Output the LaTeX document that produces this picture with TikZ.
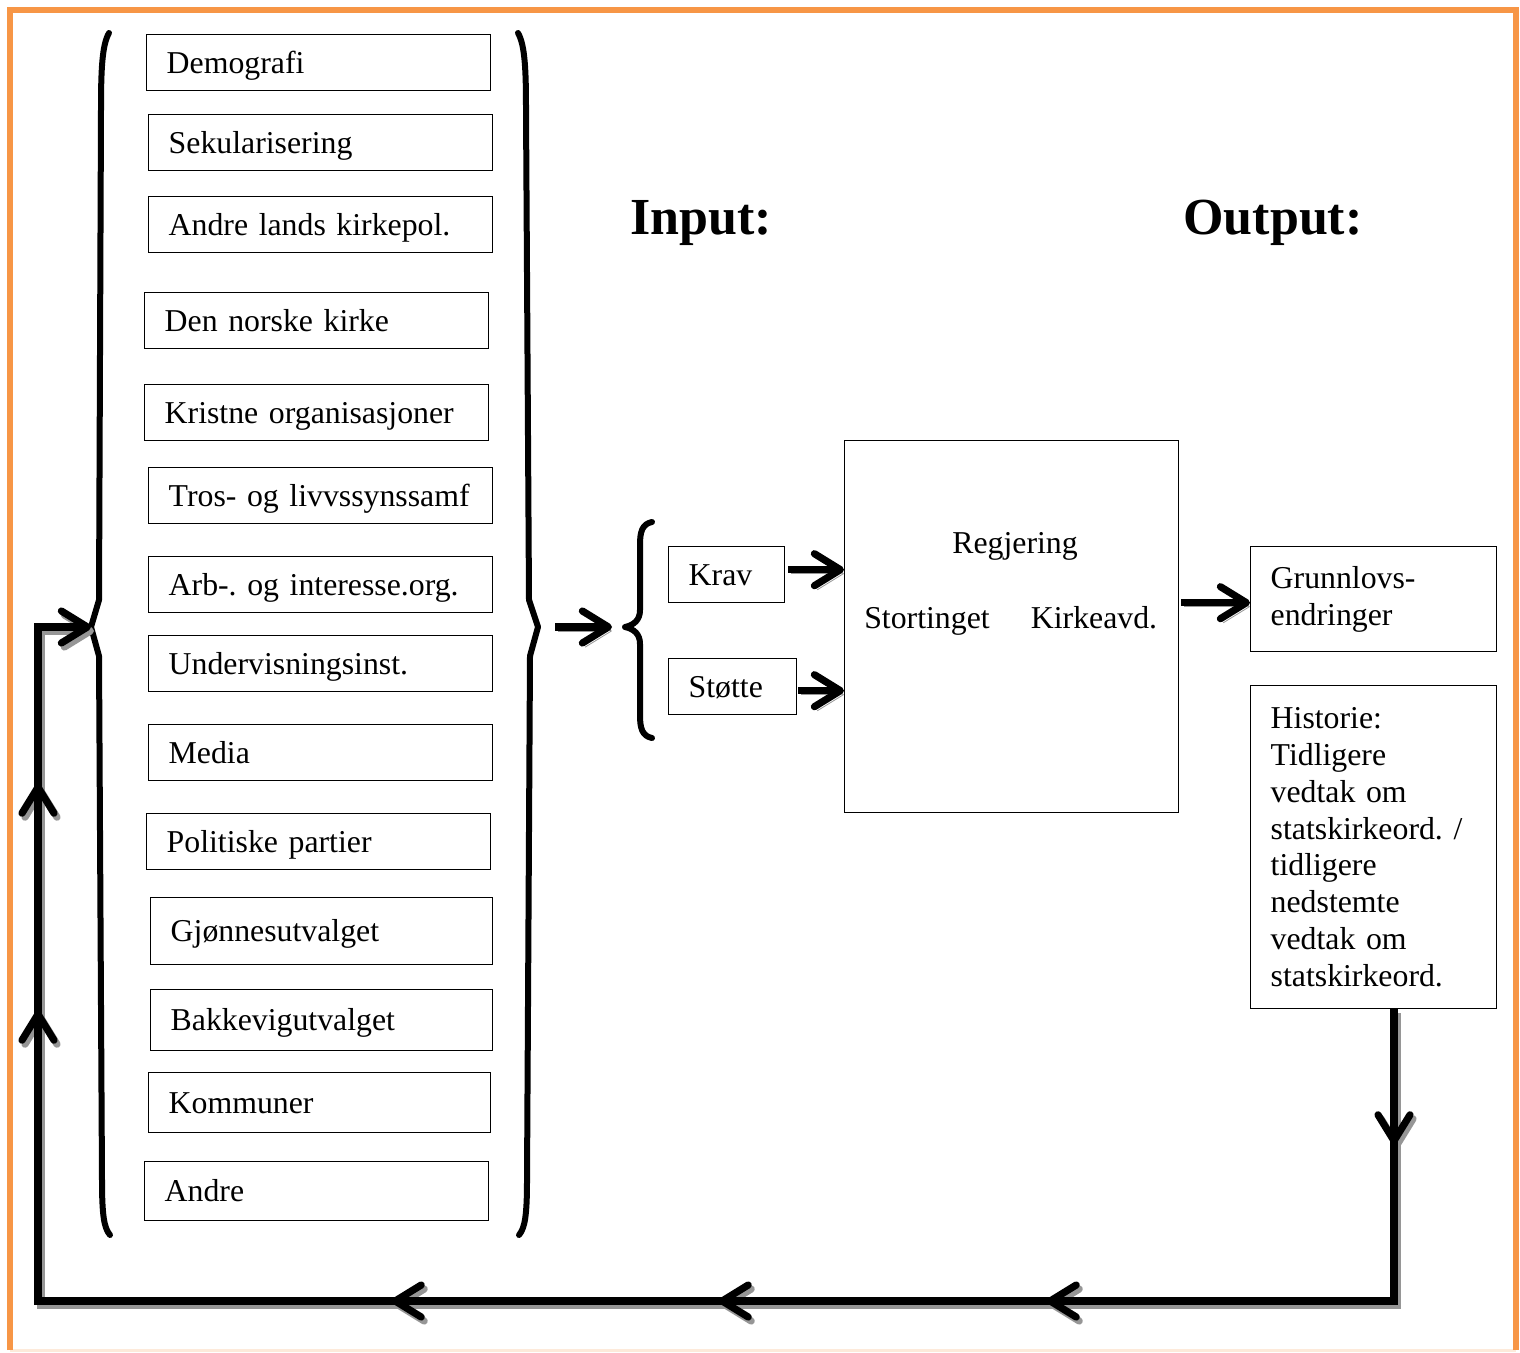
\documentclass[tikz,border=0pt]{standalone}
\usepackage{fontspec}
\setmainfont{Liberation Serif}
\usetikzlibrary{arrows.meta,decorations.markings}
\definecolor{frameorange}{RGB}{247,150,70}
\definecolor{shadowgray}{RGB}{150,150,150}
\frenchspacing

\begin{document}
\begin{tikzpicture}[x=0.5pt,y=-0.5pt,
  every node/.style={font=\fontsize{15.9}{18.45}\selectfont},
  chev/.tip={Straight Barb[length=13pt,width=16pt,line cap=round,line join=round]},
  lbox/.style={draw, line width=0.7pt, anchor=north west, minimum height=28pt,
    text width=152pt, inner xsep=10pt, inner ysep=0pt, align=left,
    text height=10.6pt, text depth=0pt},
  sbox/.style={draw, line width=0.7pt, anchor=north west, minimum height=28pt,
    inner xsep=10pt, inner ysep=0pt, align=left, text height=10.6pt, text depth=0pt},
  plain/.style={inner sep=0pt, text height=10.6pt, text depth=0pt},
  heading/.style={anchor=base west, inner sep=0pt, font=\fontsize{26}{30}\selectfont\bfseries},
  bracket/.style={line width=3pt, line cap=round, line join=round},
  flow/.style={line width=3.6pt, -chev,
    preaction={draw, color=shadowgray, transform canvas={shift={(1.5pt,-2pt)}}}},
  loopline/.style={line width=3.6pt, -chev, postaction={decorate},
    decoration={markings,
      mark=at position 67.5pt with {\arrow{chev}},
      mark=at position 319.5pt with {\arrow{chev}},
      mark=at position 483.5pt with {\arrow{chev}},
      mark=at position 647pt with {\arrow{chev}},
      mark=at position 969pt with {\arrow{chev}},
      mark=at position 1082.5pt with {\arrow{chev}}}}
]
\useasboundingbox (0,0) rectangle (1520,1353);

% frame
\draw[frameorange!20, line width=1.5pt] (10,1350) -- (1516,1350);
\draw[frameorange, line width=3pt] (10,1350) -- (10,10) -- (1516,10) -- (1516,1350);

% environment factors
\node[lbox] (n1) at (146,34) {Demografi};
\node[lbox] (n2) at (148,114) {Sekularisering};
\node[lbox] (n3) at (148,196) {Andre lands kirkepol.};
\node[lbox] (n4) at (144,292) {Den norske kirke};
\node[lbox] (n5) at (144,384) {Kristne organisasjoner};
\node[lbox] (n6) at (148,467) {Tros- og livvssynssamf};
\node[lbox] (n7) at (148,556) {Arb-. og interesse.org.};
\node[lbox] (n8) at (148,635) {Undervisningsinst.};
\node[lbox] (n9) at (148,724) {Media};
\node[lbox] (n10) at (146,813) {Politiske partier};
\node[lbox, minimum height=33.5pt, text width=151pt] (n11) at (150,897) {Gjønnesutvalget};
\node[lbox, minimum height=30.5pt, text width=151pt] (n12) at (150,989) {Bakkevigutvalget};
\node[lbox, minimum height=30pt, text width=151pt] (n13) at (148,1072) {Kommuner};
\node[lbox, minimum height=29.5pt] (n14) at (144,1161) {Andre};

% brackets around the factors
\coordinate (lbr) at (91,627);
\coordinate (rbr) at (538,627);
\draw[bracket] (109,33) .. controls (102,45) and (101,70) .. (101,110)
  -- (99,600) -- (lbr) -- (99,656) -- (102,1180)
  .. controls (102,1215) and (104,1228) .. (110,1235);
\draw[bracket] (518,33) .. controls (525,45) and (526,70) .. (526,110)
  -- (529,600) -- (rbr) -- (530,656) -- (527,1180)
  .. controls (527,1215) and (525,1228) .. (519,1235);

% input
\node[heading] (inp) at (630,235) {Input:};
\node[heading] (outp) at (1183,235) {Output:};

\coordinate (brc) at (625,627);
\draw[bracket] (652,522) .. controls (642,524) and (640,532) .. (640,545)
  -- (640,610) .. controls (640,620) and (634,625) .. (brc)
  .. controls (634,629) and (640,634) .. (640,644)
  -- (640,715) .. controls (640,728) and (642,736) .. (652,738);

\node[sbox, minimum width=58pt, text width=38pt] (krav) at (668,546) {Krav};
\node[sbox, minimum width=64pt, text width=44pt] (stotte) at (668,658) {Støtte};

% political system
\node[draw, line width=0.7pt, anchor=north west, minimum width=167pt, minimum height=186pt, inner sep=0pt] (gov) at (844,440) {};
\node[plain] (reg) at (1015,543) {Regjering};
\node[plain] (sto) at (927,618) {Stortinget};
\node[plain] (kir) at (1094,618) {Kirkeavd.};

% output
\node[draw, line width=0.7pt, anchor=north west, minimum width=123pt, minimum height=52.5pt,
  text width=103pt, inner xsep=10pt, inner ysep=0pt, align=left] (grl) at (1250,546)
  {Grunnlovs-\\endringer};
\node[draw, line width=0.7pt, anchor=north west, minimum width=123pt, minimum height=161.5pt,
  text width=103pt, inner xsep=10pt, inner ysep=0pt, align=left] (hist) at (1250,685)
  {Historie:\\Tidligere\\vedtak om\\statskirkeord. /\\tidligere\\nedstemte\\vedtak om\\statskirkeord.};

% flows
\draw[flow, shorten <=8.5pt, shorten >=6.5pt] (rbr) -- (brc);
\draw[flow] ([xshift=1.5pt,yshift=2.5pt]krav.east) -- ([yshift=2.5pt]krav.east -| gov.west);
\draw[flow] ([xshift=0.5pt,yshift=-2pt]stotte.east) -- ([yshift=-2pt]stotte.east -| gov.west);
\draw[flow] ([xshift=1pt,yshift=-1.75pt]gov.east |- grl.west) -- ([yshift=-1.75pt]grl.west);

% feedback loop
\coordinate (c1) at (1394,1301);
\coordinate (c2) at (38,1301);
\coordinate (c3) at (38,627);
\begin{scope}[transform canvas={shift={(1.5pt,-2pt)}}]
\draw[loopline, color=shadowgray] (hist.south -| c1) -- (c1) -- (c2) -- (c3) -- (lbr);
\end{scope}
\draw[loopline] (hist.south -| c1) -- (c1) -- (c2) -- (c3) -- (lbr);
\end{tikzpicture}
\end{document}
